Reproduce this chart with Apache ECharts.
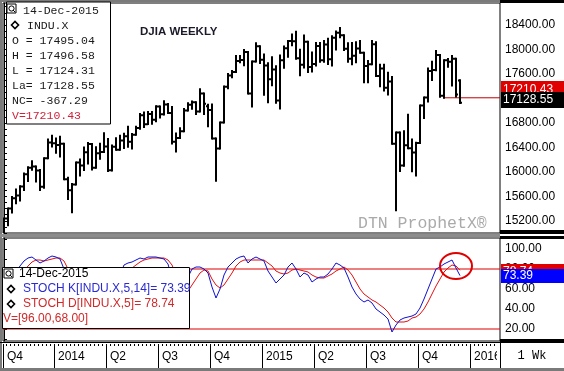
<!DOCTYPE html>
<html><head><meta charset="utf-8">
<script src="https://cdn.jsdelivr.net/npm/echarts@6/dist/echarts.min.js"></script>
<style>html,body{margin:0;padding:0;background:#fff}#c{width:564px;height:371px}</style>
</head><body><div id="c"></div>
<script>
// Weekly DJIA bars, week index 0 = week of 07-Oct-2013
const opens  = [15072,15237,15399,15570,15615,15761,15962,16065,16086,16020,15755,16221,16479,16469,16437,16458,15879,15699,15794,16154,16103,16322,16453,16065,16302,16323,16413,16027,16409,16361,16513,16583,16491,16606,16717,16924,16776,16947,16851,17068,16943,17100,16961,16493,16553,16663,17001,17098,17138,16988,17280,17071,17010,16544,16380,16805,17391,17573,17634,17810,17828,17958,17281,17805,18054,17833,17737,17512,17673,17165,17825,18019,18140,18133,17856,17750,18128,17713,17763,18057,17826,18080,17841,18191,18272,18232,18011,17849,17898,18015,17947,17730,17760,18086,17568,17690,17373,17477,16460,16643,16102,16433,16385,16315,16472,17084,17216,17647,17664,17910,17245,17824,17798,17848,17495.04];
const highs  = [15237,15399,15590,15710,15764,15973,16074,16174,16086,16028,16221,16529,16588,16545,16573,16458,15902,15802,16154,16201,16398,16470,16453,16401,16459,16631,16535,16430,16551,16588,16624,16736,16620,16735,16946,16970,16978,16978,17074,17068,17152,17107,17058,16626,16714,17026,17122,17151,17138,17350,17280,17098,17100,16544,16805,17395,17600,17650,17895,17894,17991,17958,17805,18103,18054,17920,17775,17872,17725,17901,18050,18140,18246,18288,17996,18227,18128,17950,18107,18105,18138,18175,18218,18293,18351,18232,18103,18107,18120,18137,17947,17811,18137,18119,17750,17750,17620,17549,16643,16643,16664,16933,16530,16475,17084,17217,17689,17799,17977,17910,17824,17845,17895,17848,17496.58];
const lows   = [14719,15125,15334,15488,15530,15705,15851,16036,15840,15703,15739,16221,16415,16311,16249,15879,15556,15340,15794,15940,16030,16135,16038,16065,16212,16323,16015,16020,16361,16361,16391,16408,16380,16606,16704,16734,16781,16787,16825,16888,16938,16960,16463,16333,16553,16663,17001,17033,16946,16988,16945,16746,16544,15855,16380,16805,17366,17545,17634,17790,17744,17280,17068,17805,17778,17262,17136,17416,17130,17037,17700,17881,18069,17850,17579,17705,17634,17640,17737,17800,17800,17764,17739,18000,18202,17990,17800,17760,17791,17946,17465,17465,17760,17568,17399,17330,17266,16460,15370,16013,16100,16385,16010,15942,16472,16880,17150,17500,17660,17228,17210,17717,17410,17230,17124.31];
const closes = [15237,15399,15570,15615,15761,15962,16065,16086,16020,15755,16221,16479,16469,16437,16458,15879,15699,15794,16154,16103,16322,16453,16065,16302,16323,16413,16027,16409,16361,16513,16583,16491,16606,16717,16924,16776,16947,16851,17068,16943,17100,16961,16493,16553,16663,17001,17098,17138,16988,17280,17113,17010,16544,16380,16805,17391,17573,17634,17810,17828,17958,17281,17805,18054,17833,17737,17512,17673,17165,17825,18019,18140,18133,17856,17750,18128,17713,17763,18057,17826,18080,17841,18191,18272,18232,18011,17849,17898,18015,17947,17730,17760,18086,17568,17690,17373,17477,16460,16643,16102,16433,16385,16315,16472,17084,17216,17647,17664,17910,17245,17824,17798,17848,17265,17128.55];
const stochK = [55,62,70,77,83,88,91,92,89,86,88,91,93,92,90,80,58,38,30,36,50,63,64,62,66,72,62,57,62,74,84,86,87,89,91,90,92,92,92,91,90,85,70,48,40,55,72,80,82,82,80,76,62,51,60,74,82,86,90,92,93,86,90,92,90,88,78,72,66,70,74,82,86,80,72,76,74,67,70,72,72,75,80,86,84,81,72,62,55,50,47,49,46,40,37,34,30,17,24,29,31,32,33,35,41,50,60,70,80,82,85,87,89,81,73.39];
const stochD = [50,55,60,66,72,78,83,87,89,89,88,89,90,91,91,88,80,68,55,46,42,47,53,58,62,65,65,63,62,65,70,76,81,84,87,89,90,91,91,91,91,89,84,74,63,57,58,64,70,76,79,78,70,64,61,64,70,76,83,87,89,89,89,89,89,89,86,83,78,76,75,76,79,80,79,78,77,74,72,71,71,73,75,78,80,82,79,74,67,60,55,52,49,47,44,41,37,31,27,27,27,28,31,32,35,40,47,55,63,70,77,81,84,83,78.74];
const priceTicks = [15200,15600,16000,16400,16800,17200,17600,18000,18400];
const stochTicks = [20,40,60,80,100];
const stochLevels = [80,20];
const timeLabels = ['Q4','2014','Q2','Q3','Q4','2015','Q2','Q3','Q4','2016'];
const timeLabelWeeks = [0,13,26,39,52,65,78,91,104,117];
const lastValue = 17210.43;
const lastValueStartWeek = 109.75;

const XMIN = -0.25, XMAX = 124;
const idx = opens.map((_, i) => i);
const ohlc = idx.map(i => [i, opens[i], highs[i], lows[i], closes[i]]);
const kData = idx.map(i => [i, stochK[i]]);
const dData = idx.map(i => [i, stochD[i]]);
const priceMinor = []; for (let v = 15000; v <= 18700; v += 100) priceMinor.push(v);
const stochMinor = []; for (let v = 10; v <= 110; v += 10) stochMinor.push(v);
const sepVals = timeLabelWeeks.map(w => Math.max(XMIN, w - 0.5));
const weekTicks = []; for (let w = 0; w <= 124; w++) weekTicks.push(w - 0.5 < XMIN ? XMIN : w - 0.5);

const chart = echarts.init(document.getElementById('c'), null, {renderer: 'canvas'});
const sans = 'Liberation Sans, Arial, sans-serif';
const mono = 'Liberation Mono, Courier New, monospace';

const option = {
  backgroundColor: '#fff',
  animation: false,
  grid: [
    {left: 3, top: 3, width: 497, height: 230, show: true, borderColor: '#000', borderWidth: 1, backgroundColor: '#fff'},
    {left: 3, top: 238, width: 497, height: 103, show: true, borderColor: '#000', borderWidth: 1, backgroundColor: '#fff'},
    {left: 3, top: 343, width: 497, height: 1}
  ],
  xAxis: [
    {gridIndex: 0, type: 'value', min: XMIN, max: XMAX, show: false},
    {gridIndex: 1, type: 'value', min: XMIN, max: XMAX, show: false},
    {gridIndex: 2, type: 'value', min: XMIN, max: XMAX, position: 'bottom',
     axisLine: {show: false}, splitLine: {show: false},
     axisTick: {show: true, customValues: sepVals, length: 24, lineStyle: {color: '#000', width: 1}},
     axisLabel: {customValues: sepVals, margin: 7, align: 'left', padding: [0,0,0,4],
       fontFamily: sans, fontSize: 12, color: '#000',
       formatter: v => { const k = sepVals.findIndex(s => Math.abs(s - v) < 1e-6); return k >= 0 ? timeLabels[k] : ''; }}},
    {gridIndex: 2, type: 'value', min: XMIN, max: XMAX, position: 'bottom',
     axisLine: {show: false}, splitLine: {show: false}, axisLabel: {show: false},
     axisTick: {show: true, customValues: weekTicks, length: 2, lineStyle: {color: '#000', width: 1}}}
  ],
  yAxis: [
    {gridIndex: 0, type: 'value', position: 'right', min: 15000, max: 18760,
     axisLine: {show: true, lineStyle: {color: '#000'}}, splitLine: {show: false},
     axisTick: {show: true, customValues: priceMinor, length: 3, lineStyle: {color: '#000'}},
     axisLabel: {customValues: priceTicks, margin: 5, fontFamily: sans, fontSize: 12, color: '#000', formatter: v => v.toFixed(2)}},
    {gridIndex: 1, type: 'value', position: 'right', min: 8, max: 111,
     axisLine: {show: true, lineStyle: {color: '#000'}}, splitLine: {show: false},
     axisTick: {show: true, customValues: stochMinor, length: 3, lineStyle: {color: '#000'}},
     axisLabel: {customValues: stochTicks, margin: 5, fontFamily: sans, fontSize: 12, color: '#000', formatter: v => v.toFixed(2)}},
    {gridIndex: 2, type: 'value', show: false, min: 0, max: 1}
  ],
  series: [
    {type: 'custom', xAxisIndex: 0, yAxisIndex: 0, clip: true, data: ohlc,
     encode: {x: 0, y: [1,2,3,4]},
     renderItem: (params, api) => {
       const i = api.value(0);
       const h = api.coord([i, api.value(2)]), l = api.coord([i, api.value(3)]);
       const o = api.coord([i, api.value(1)]), c = api.coord([i, api.value(4)]);
       const st = {stroke: '#000', lineWidth: 2};
       return {type: 'group', children: [
         {type: 'line', shape: {x1: h[0], y1: h[1] - 1, x2: l[0], y2: l[1] + 1}, style: st},
         {type: 'line', shape: {x1: o[0] - 2, y1: o[1], x2: o[0], y2: o[1]}, style: st},
         {type: 'line', shape: {x1: c[0], y1: c[1], x2: c[0] + 2, y2: c[1]}, style: st}
       ]};
     }},
    {type: 'line', xAxisIndex: 0, yAxisIndex: 0, data: [[lastValueStartWeek, lastValue], [XMAX, lastValue]],
     symbol: 'none', lineStyle: {color: '#c00000', width: 1}, z: 1},
    ...stochLevels.map(v => ({type: 'line', xAxisIndex: 1, yAxisIndex: 1, data: [[XMIN, v], [XMAX, v]],
     symbol: 'none', lineStyle: {color: '#e00000', width: 1.2}, z: 1})),
    {type: 'line', xAxisIndex: 1, yAxisIndex: 1, data: dData, symbol: 'none', lineStyle: {color: '#e01010', width: 1}, z: 2},
    {type: 'line', xAxisIndex: 1, yAxisIndex: 1, data: kData, symbol: 'none', lineStyle: {color: '#1010d0', width: 1}, z: 3}
  ]
};
chart.setOption(option);

const py = v => chart.convertToPixel({yAxisIndex: 0}, v);
const sy = v => chart.convertToPixel({yAxisIndex: 1}, v);
const sx = v => chart.convertToPixel({xAxisIndex: 1}, v);
const lastK = stochK[stochK.length - 1], lastD = stochD[stochD.length - 1];
const lastC = closes[closes.length - 1];

function valBox(y, h, fill, txt) {
  return [{type: 'rect', shape: {x: 501, y: Math.round(y - h/2), width: 63, height: h}, style: {fill}, z: 50},
          {type: 'text', x: 503, y: y, style: {text: txt, fill: '#fff', font: '12px ' + sans, textVerticalAlign: 'middle'}, z: 50}];
}
function legendRow(x, y, txt, color, font) {
  return {type: 'text', x, y, style: {text: txt, fill: color, font, textVerticalAlign: 'middle'}, z: 61};
}
function diamond(cx, cy) {
  return {type: 'polygon', shape: {points: [[cx-3.5, cy], [cx, cy-3.5], [cx+3.5, cy], [cx, cy+3.5]]}, style: {fill: 'none', stroke: '#000', lineWidth: 1.6}, z: 61};
}
function icon(x, y) {
  return [{type: 'rect', shape: {x, y, width: 9, height: 9}, style: {fill: '#fff', stroke: '#000', lineWidth: 1}, z: 62},
          {type: 'circle', shape: {cx: x + 4.5, cy: y + 4.5, r: 2.6}, style: {fill: 'none', stroke: '#000', lineWidth: 1}, z: 63},
          {type: 'line', shape: {x1: x + 6, y1: y + 6, x2: x + 8, y2: y + 8}, style: {stroke: '#000', lineWidth: 1}, z: 63}];
}
const monoF = '11.5px ' + mono;
const redBox = valBox(py(lastValue) - 8, 18, '#e00000', lastValue.toFixed(2));
const blkBox = valBox(py(lastC) - 3, 16, '#000', lastC.toFixed(2));
const redS = valBox(sy(lastD) + 1, 14, '#e00000', lastD.toFixed(2));
const bluS = valBox(sy(lastK), 14, '#0000ff', lastK.toFixed(2));
redBox.forEach(e => e.z = 48); blkBox.forEach(e => e.z = 52);
redS.forEach(e => e.z = 48); bluS.forEach(e => e.z = 52);
const g = [
  {type: 'rect', shape: {x: 0, y: 0, width: 564, height: 2}, style: {fill: '#7a7a7a'}, z: 40},
  {type: 'rect', shape: {x: 0, y: 0, width: 2, height: 371}, style: {fill: '#7a7a7a'}, z: 40},
  {type: 'rect', shape: {x: 0, y: 234, width: 500, height: 3}, style: {fill: '#8c8c8c'}, z: 40},
  {type: 'rect', shape: {x: 500, y: 0, width: 64, height: 3}, style: {fill: '#000'}, z: 40},
  {type: 'rect', shape: {x: 500, y: 230, width: 64, height: 4}, style: {fill: '#000'}, z: 40},
  {type: 'rect', shape: {x: 500, y: 236, width: 64, height: 3}, style: {fill: '#000'}, z: 40},
  {type: 'rect', shape: {x: 500, y: 339, width: 64, height: 4}, style: {fill: '#000'}, z: 40},
  {type: 'rect', shape: {x: 497, y: 344, width: 3, height: 24}, style: {fill: '#fff'}, z: 40},
  {type: 'line', shape: {x1: 0, y1: 342.5, x2: 500, y2: 342.5}, style: {stroke: '#000', lineWidth: 1}, z: 41},
  {type: 'line', shape: {x1: 500.5, y1: 343, x2: 500.5, y2: 371}, style: {stroke: '#000', lineWidth: 1}, z: 41},
  {type: 'rect', shape: {x: 0, y: 368, width: 564, height: 3}, style: {fill: '#7a7a7a'}, z: 41},
  {type: 'text', x: 532, y: 356, style: {text: '1 Wk', fill: '#000', font: '12px ' + mono, textAlign: 'center', textVerticalAlign: 'middle'}, z: 41},
  {type: 'text', x: 140, y: 32, style: {text: 'DJIA WEEKLY', fill: '#1a1a2a', font: 'bold 11.5px ' + sans, textVerticalAlign: 'middle'}, z: 30},
  {type: 'text', x: 358, y: 224, style: {text: 'DTN ProphetX®', fill: '#aaaaaa', font: '16.5px ' + mono, textVerticalAlign: 'middle'}, z: 30},
  ...redBox, ...blkBox, ...redS, ...bluS,
  {type: 'ellipse', shape: {cx: sx(113), cy: sy(83), rx: 16, ry: 13}, style: {fill: 'none', stroke: '#e00000', lineWidth: 2}, z: 45},
  {type: 'rect', shape: {x: 6.5, y: 2, width: 104, height: 122}, style: {fill: '#fff', stroke: '#000', lineWidth: 1}, z: 60},
  ...icon(7, 4),
  legendRow(23, 11, '14-Dec-2015', '#1a1a1a', monoF),
  diamond(15, 25), legendRow(27, 25.5, 'INDU.X', '#1a1a1a', monoF),
  legendRow(12, 40.5, 'O = ' + opens[opens.length-1].toFixed(2), '#1a1a1a', monoF),
  legendRow(12, 55.5, 'H = ' + highs[highs.length-1].toFixed(2), '#1a1a1a', monoF),
  legendRow(12, 70.5, 'L = ' + lows[lows.length-1].toFixed(2), '#1a1a1a', monoF),
  legendRow(12, 85.5, 'La= ' + lastC.toFixed(2), '#1a1a1a', monoF),
  legendRow(12, 100.5, 'NC= -367.29', '#1a1a1a', monoF),
  legendRow(12, 115.5, 'V=' + lastValue.toFixed(2), '#d0203a', monoF),
  {type: 'rect', shape: {x: 2.5, y: 267.5, width: 187, height: 61}, style: {fill: '#fff', stroke: '#000', lineWidth: 1}, z: 60},
  ...icon(4, 269),
  legendRow(19, 274, '14-Dec-2015', '#000', '12px ' + sans),
  diamond(11, 289), legendRow(23, 289, 'STOCH K[INDU.X,5,14]= ' + lastK.toFixed(2), '#2a2ad0', '12px ' + sans),
  diamond(11, 304), legendRow(23, 304, 'STOCH D[INDU.X,5]= ' + lastD.toFixed(2), '#d02a2a', '12px ' + sans),
  legendRow(3, 319, 'V=[96.00,68.00]', '#d02a2a', '12px ' + sans)
];
chart.setOption({graphic: {elements: g}});
</script>
</body></html>
